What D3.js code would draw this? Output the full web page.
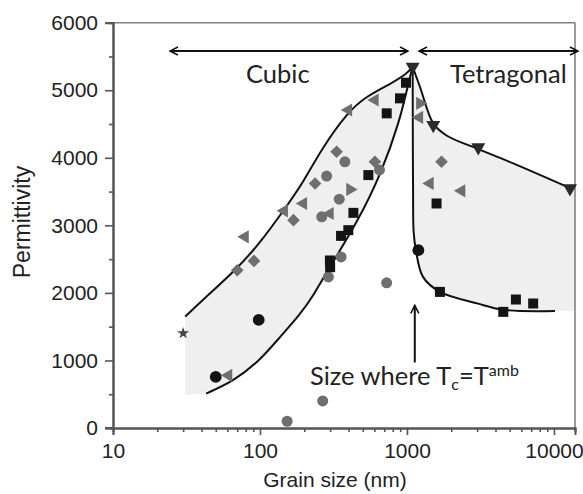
<!DOCTYPE html>
<html>
<head>
<meta charset="utf-8">
<script src="https://cdn.jsdelivr.net/npm/d3@7"></script>
<style>
body { margin: 0; background: #fff; }
svg { display: block; }
</style>
</head>
<body>
<svg id="chart" width="583" height="494"></svg>
<script>
// values: [grain size (nm), permittivity]
var blackSquares = [[985, 5111], [896, 4880], [728, 4658], [546, 3744], [432, 3185], [399, 2929],
    [356, 2844], [299, 2480], [300, 2380], [1589, 3324], [1675, 2015], [4520, 1719], [5510, 1902], [7220, 1843]];
var blackCircles = [[50, 756], [98, 1600], [1195, 2633]];
var grayCircles = [[153, 100], [267, 400], [727, 2150], [284, 3729], [346, 3388], [263, 3126],
    [356, 2533], [292, 2237], [378, 3941], [650, 3820]];
var grayDiamonds = [[70, 2336], [91, 2474], [169, 3077], [237, 3620], [332, 4089], [605, 3941], [1718, 3941]];
var grayLeftTri = [[61, 780], [79, 2830], [146, 3215], [197, 3324], [299, 3176], [399, 4707], [605, 4855],
    [1213, 4598], [1432, 3621], [2350, 3511]];
var grayRightTri = [[410, 3532], [1225, 4806]];
var darkDownTri = [[1093, 5348], [1510, 4484], [3055, 4154], [12850, 3547]];
var stars = [[30, 1403]];

// guide curves
var cubicUpper = [[31, 1650], [41, 1900], [70, 2360], [100, 2740], [146, 3230], [200, 3660], [260, 4120],
    [399, 4690], [531, 4910], [766, 5090], [994, 5240], [1093, 5348]];
var cubicLower = [[43, 510], [66, 690], [100, 1000], [137, 1350], [187, 1680], [231, 1960], [299, 2390],
    [455, 3030], [673, 3780], [896, 4560], [1016, 5080], [1093, 5348]];
var tetUpper = [[1093, 5348], [1225, 5052], [1510, 4510], [1858, 4330], [2980, 4139], [5280, 3917], [12990, 3547]];
var tetLower = [[1093, 5348], [1095, 4500], [1100, 3500], [1110, 2900], [1150, 2633], [1285, 2237],
    [1675, 2015], [3000, 1845], [4520, 1750], [10160, 1733]];
var cubicShadeCorner = [31, 490];
var tetShadeRight = [[13900, 3547], [13900, 1733]];

var yTicks = [0, 1000, 2000, 3000, 4000, 5000, 6000];
var xTickLabels = [10, 100, 1000, 10000];

var svg = d3.select("#chart");
var x = d3.scaleLog().domain([10, 13900]).range([113, 575]);
var y = d3.scaleLinear().domain([0, 6000]).range([428, 22.7]);

var lineSmooth = d3.line()
    .x(function(d) { return x(d[0]); })
    .y(function(d) { return y(d[1]); })
    .curve(d3.curveBasis);
var lineThru = d3.line()
    .x(function(d) { return x(d[0]); })
    .y(function(d) { return y(d[1]); })
    .curve(d3.curveCatmullRom.alpha(0.5));

function cont(gen, pts) { return "L" + gen(pts).slice(1); }

// shaded regions
var cubicShade = "M" + x(cubicShadeCorner[0]) + "," + y(cubicShadeCorner[1]) +
    cont(lineSmooth, cubicUpper) + cont(lineSmooth, cubicLower.slice().reverse()) + "Z";
svg.append("path").attr("d", cubicShade).attr("fill", "#efefef");
var tetShade = lineThru(tetUpper) +
    tetShadeRight.map(function(d) { return "L" + x(d[0]) + "," + y(d[1]); }).join("") +
    cont(lineThru, tetLower.slice().reverse()) + "Z";
svg.append("path").attr("d", tetShade).attr("fill", "#efefef");

// frame top / right
svg.append("line").attr("x1", 113).attr("x2", 575).attr("y1", y(6000)).attr("y2", y(6000))
    .attr("stroke", "#808080").attr("stroke-width", 1.6);
svg.append("line").attr("x1", 575).attr("x2", 575).attr("y1", y(6000)).attr("y2", y(0))
    .attr("stroke", "#808080").attr("stroke-width", 1.6);

// axes
svg.append("g").attr("transform", "translate(113,0)")
    .call(d3.axisLeft(y).tickValues(yTicks).tickSize(8).tickPadding(7).tickFormat(d3.format("d")));
svg.append("g").attr("transform", "translate(113,0)")
    .call(d3.axisLeft(y).tickValues(d3.range(500, 6000, 1000)).tickSize(4).tickFormat(""));
svg.append("g").attr("transform", "translate(0,428)")
    .call(d3.axisBottom(x).tickValues(xTickLabels).tickSize(7).tickPadding(8).tickFormat(d3.format("d")));
svg.append("g").attr("transform", "translate(0,428)")
    .call(d3.axisBottom(x).tickValues(x.ticks().filter(function(t) { return xTickLabels.indexOf(t) < 0; }))
        .tickSize(4).tickFormat(""));
svg.selectAll(".domain").attr("stroke", "#555").attr("stroke-width", 2);
svg.selectAll(".tick line").attr("stroke", "#555").attr("stroke-width", 1.6);
svg.selectAll(".tick text").attr("fill", "#222").style("font-family", "Liberation Sans, Arial, sans-serif")
    .style("font-size", "21px");
svg.append("line").attr("x1", 105).attr("x2", 113).attr("y1", 428).attr("y2", 428)
    .attr("stroke", "#555").attr("stroke-width", 2);

// axis titles
svg.append("text").attr("x", 335).attr("y", 487).attr("text-anchor", "middle")
    .attr("fill", "#222").style("font-family", "Liberation Sans, Arial, sans-serif").style("font-size", "21px")
    .text("Grain size (nm)");
svg.append("text").attr("transform", "translate(30,222) rotate(-90)").attr("text-anchor", "middle")
    .attr("fill", "#222").style("font-family", "Liberation Sans, Arial, sans-serif").style("font-size", "23px")
    .text("Permittivity");

// curves
[cubicUpper, cubicLower].forEach(function(c) {
    svg.append("path").attr("d", lineSmooth(c)).attr("fill", "none").attr("stroke", "#111").attr("stroke-width", 2);
});
[tetUpper, tetLower].forEach(function(c) {
    svg.append("path").attr("d", lineThru(c)).attr("fill", "none").attr("stroke", "#111").attr("stroke-width", 2);
});

// markers
function drawMarks(data, type, size, rot, color) {
    svg.append("g").selectAll("path")
        .data(data)
        .enter().append("path")
        .attr("d", d3.symbol().type(type).size(size))
        .attr("transform", function(d) {
            return "translate(" + x(d[0]) + "," + y(d[1]) + ") rotate(" + rot + ")";
        })
        .attr("fill", color);
}
drawMarks(grayCircles, d3.symbolCircle, 95, 0, "#6f6f6f");
drawMarks(grayDiamonds, d3.symbolSquare, 80, 45, "#6f6f6f");
drawMarks(grayLeftTri, d3.symbolTriangle, 75, -90, "#6f6f6f");
drawMarks(grayRightTri, d3.symbolTriangle, 75, 90, "#6f6f6f");
drawMarks(stars, d3.symbolStar, 45, 0, "#444");
drawMarks(blackSquares, d3.symbolSquare, 100, 0, "#141414");
drawMarks(blackCircles, d3.symbolCircle, 110, 0, "#141414");
drawMarks(darkDownTri, d3.symbolTriangle, 85, 180, "#2a2a2a");

// annotations
var defs = svg.append("defs");
defs.append("marker").attr("id", "head").attr("viewBox", "0 0 10 10").attr("refX", 9).attr("refY", 5)
    .attr("markerWidth", 10).attr("markerHeight", 10).attr("markerUnits", "userSpaceOnUse")
    .attr("orient", "auto-start-reverse")
    .append("path").attr("d", "M1,1 L9,5 L1,9").attr("fill", "none").attr("stroke", "#111").attr("stroke-width", 1.6);

var arrows = [[24.4, 1016, 5580, 5580], [1208, 14560, 5580, 5580], [1130, 1130, 970, 1815]];
arrows.forEach(function(a) {
    svg.append("line").attr("x1", x(a[0])).attr("x2", x(a[1])).attr("y1", y(a[2])).attr("y2", y(a[3]))
        .attr("stroke", "#111").attr("stroke-width", 2)
        .attr("marker-end", "url(#head)")
        .attr("marker-start", a[2] === a[3] ? "url(#head)" : null);
});

var annFont = "Lato, 'Open Sans', sans-serif";
svg.append("text").attr("x", 246).attr("y", 83).attr("fill", "#222")
    .style("font-family", annFont).style("font-size", "25.5px").text("Cubic");
svg.append("text").attr("x", 450).attr("y", 83).attr("fill", "#222")
    .style("font-family", annFont).style("font-size", "25.5px").text("Tetragonal");
var t = svg.append("text").attr("x", 310).attr("y", 385).attr("fill", "#222")
    .style("font-family", annFont).style("font-size", "25.5px");
t.append("tspan").text("Size where T");
t.append("tspan").attr("dy", 5).style("font-size", "16px").text("c");
t.append("tspan").attr("dy", -5).text("=T");
t.append("tspan").attr("dy", -9).style("font-size", "16px").text("amb");
</script>
</body>
</html>
